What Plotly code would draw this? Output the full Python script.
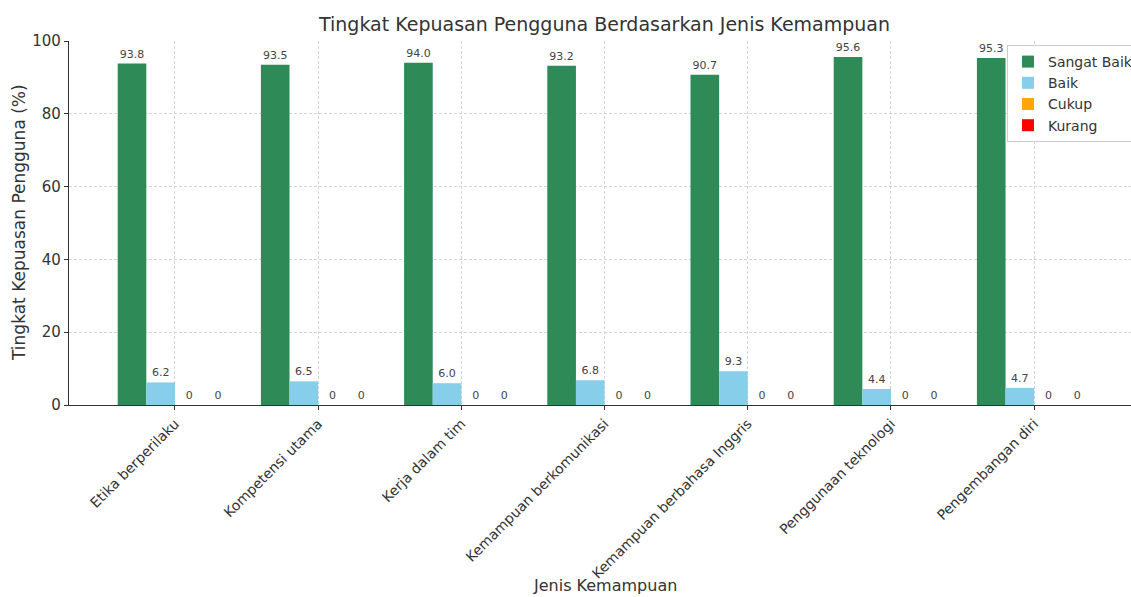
import plotly.graph_objects as go

categories = ["Etika berperilaku", "Kompetensi utama", "Kerja dalam tim",
              "Kemampuan berkomunikasi", "Kemampuan berbahasa Inggris",
              "Penggunaan teknologi", "Pengembangan diri"]
sangat_baik = [93.8, 93.5, 94.0, 93.2, 90.7, 95.6, 95.3]
baik = [6.2, 6.5, 6.0, 6.8, 9.3, 4.4, 4.7]
cukup = [0, 0, 0, 0, 0, 0, 0]
kurang = [0, 0, 0, 0, 0, 0, 0]
y_ticks = [0, 20, 40, 60, 80, 100]

series = [("Sangat Baik", sangat_baik, "#2E8B57"),
          ("Baik", baik, "#87CEEB"),
          ("Cukup", cukup, "#FFA500"),
          ("Kurang", kurang, "#FF0000")]

xpos = [i + 0.3 for i in range(len(categories))]

lbl_font = dict(family="DejaVu Sans", size=11, color="#444444")
fig = go.Figure()
for name, vals, col in series:
    fig.add_trace(go.Bar(
        x=xpos, y=vals, name=name, marker=dict(color=col, line=dict(width=0)),
        text=[f"{v:.1f}" if v else "0" for v in vals],
        textposition="outside", cliponaxis=False,
        textfont=lbl_font, outsidetextfont=lbl_font,
    ))

fig.update_layout(
    width=1131, height=597,
    margin=dict(l=69, r=0, t=41, b=192, autoexpand=False),
    plot_bgcolor="white", paper_bgcolor="white",
    barmode="group", bargap=0.2, bargroupgap=0,
    font=dict(family="DejaVu Sans", color="#333333"),
    title=dict(text="Tingkat Kepuasan Pengguna Berdasarkan Jenis Kemampuan",
               x=604.5 / 1131, xanchor="center", y=1 - 24 / 597, yanchor="middle",
               font=dict(size=19, color="#333333")),
    legend=dict(x=(1007 - 69) / (1131 - 69), xanchor="left", y=1 - 4 / 364, yanchor="top",
                bgcolor="white", bordercolor="#cccccc", borderwidth=1,
                font=dict(size=14, color="#333333"), tracegroupgap=0),
    showlegend=True,
)
grid = dict(showgrid=True, gridcolor="#d5d5d5", griddash="3px,2px", gridwidth=1)
fig.update_xaxes(
    range=[-0.44, 6.976], tickvals=xpos, ticktext=categories, tickangle=-45,
    tickfont=dict(size=14, color="#333333"), automargin=False,
    showline=True, linecolor="#333333", linewidth=1.2,
    ticks="outside", ticklen=4, tickcolor="#333333",
    zeroline=False, **grid,
)
fig.update_yaxes(
    range=[0, 100], tickvals=y_ticks, automargin=False,
    tickfont=dict(size=15, color="#333333"),
    showline=True, linecolor="#333333", linewidth=1.2,
    ticks="outside", ticklen=4, tickcolor="#333333",
    zeroline=False, **grid,
)
fig.add_annotation(text="Jenis Kemampuan", xref="paper", yref="paper",
                   x=(604.5 - 69) / (1131 - 69), y=-(585 - 405) / 364,
                   xanchor="center", yanchor="middle", showarrow=False,
                   font=dict(size=16, color="#333333"))
fig.add_annotation(text="Tingkat Kepuasan Pengguna (%)", xref="paper", yref="paper",
                   x=-(69 - 19) / (1131 - 69), y=0.5, textangle=-90,
                   xanchor="center", yanchor="middle", showarrow=False,
                   font=dict(size=17, color="#333333"))

fig.write_html("out.html", config={"displayModeBar": False},
               post_script="document.body.style.margin='0';document.body.style.overflow='hidden';")
